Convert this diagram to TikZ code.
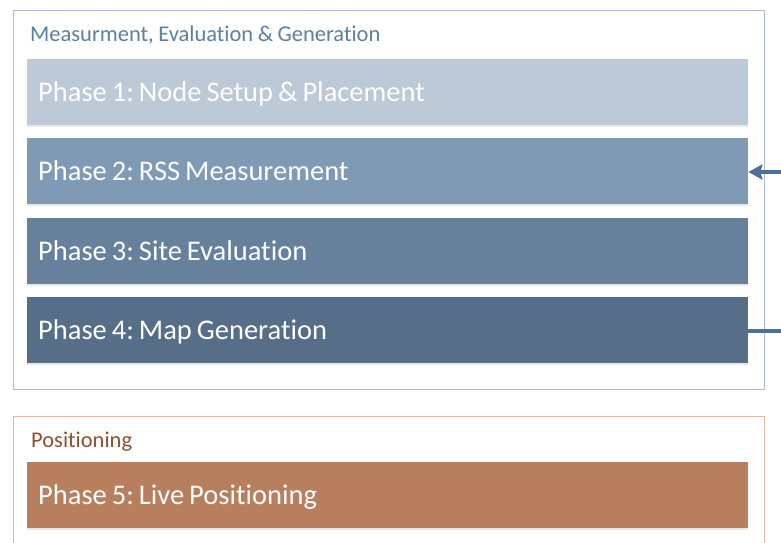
\documentclass[tikz,border=0pt]{standalone}
\usepackage{fontspec}
\setmainfont{Carlito}[Ligatures=NoCommon]
\usetikzlibrary{arrows.meta,shadows}
\frenchspacing
\newcommand{\tightwords}{\spaceskip=0.175em\relax}
\newcommand{\titlewords}{\spaceskip=0.2em\relax}

\definecolor{groupblue}{HTML}{A9BCD0}
\definecolor{titleblue}{HTML}{5B80A6}
\definecolor{phaseA}{HTML}{BDC9D7}
\definecolor{phaseB}{HTML}{7F9AB5}
\definecolor{phaseC}{HTML}{67819C}
\definecolor{phaseD}{HTML}{566E87}
\definecolor{flowblue}{HTML}{4C7199}
\definecolor{grouporange}{HTML}{E2B9A2}
\definecolor{titlebrown}{HTML}{8E5030}
\definecolor{phaseE}{HTML}{B77F5E}

\tikzset{
  groupbox/.style={draw=#1, line width=1pt, fill=white},
  grouptitle/.style={anchor=base west, inner sep=0pt, text=#1,
    font=\fontsize{22.5}{27}\selectfont, execute at begin node=\titlewords},
  % capitals centred in the bar
  phasebox/.style={fill=#1, anchor=north west, minimum width=721pt, minimum height=66pt,
    text width=699pt, inner xsep=11pt, inner ysep=0pt, align=left, text=white,
    text height=18.4pt, text depth=0pt,
    font=\fontsize{28.5}{34}\selectfont, execute at begin node=\tightwords,
    drop shadow={opacity=0.18, shadow xshift=0pt, shadow yshift=-1.5pt}},
  flow/.style={draw=flowblue, line width=4pt},
}

\begin{document}
\begin{tikzpicture}[x=1pt, y=-1pt]
  \useasboundingbox (0,0) rectangle (781,542);
  \clip (0,0) rectangle (781,542);

  % upper group: measurement, evaluation and generation
  \draw[groupbox=groupblue] (13,10) rectangle (764,389);
  \node[grouptitle=titleblue] (titleA) at (30,41) {Measurment, Evaluation \& Generation};

  \node[phasebox=phaseA] (p1) at (27,59)  {Phase 1: Node Setup \& Placement};
  \node[phasebox=phaseB] (p2) at (27,138) {Phase 2: RSS Measurement};
  \node[phasebox=phaseC] (p3) at (27,218) {Phase 3: Site Evaluation};
  \node[phasebox=phaseD] (p4) at (27,297) {Phase 4: Map Generation};

  % lower group: positioning
  \draw[groupbox=grouporange] (13,416) rectangle (764,560);
  \node[grouptitle=titlebrown] (titleB) at (31,447) {Positioning};
  \node[phasebox=phaseE] (p5) at (27,462) {Phase 5: Live Positioning};

  % loop from map generation back to RSS measurement
  \coordinate (outD) at (781,331);
  \coordinate (inB) at (781,172);
  \draw[flow] (p4.east |- outD) -- (outD);
  \draw[flow, -{Stealth[length=14pt, width=15pt, inset=2pt]}] (inB) -- (p2.east |- inB);
\end{tikzpicture}
\end{document}
